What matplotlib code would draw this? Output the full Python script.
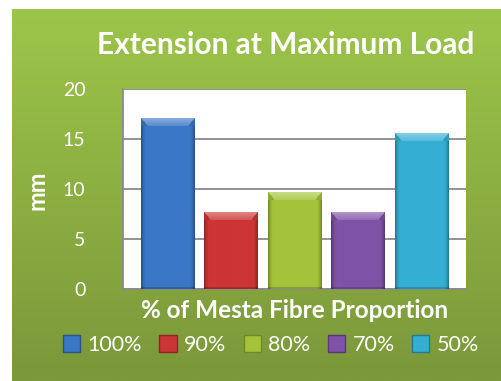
import numpy as np
import matplotlib
matplotlib.use("Agg")
import matplotlib.pyplot as plt
from matplotlib.patches import Rectangle
from matplotlib.colors import to_rgb

# Data
categories = ["100%", "90%", "80%", "70%", "50%"]
extension_mm = [17.1, 7.7, 9.7, 7.7, 15.6]
bar_colors = ["#3a78c6", "#cc3535", "#a4c33a", "#7e52a6", "#34afd3"]
yticks = [0, 5, 10, 15, 20]

FONT = "Lato"
W, H = 501, 381
fig = plt.figure(figsize=(W / 100, H / 100), dpi=100, facecolor="white")

# Green chart panel with a soft vertical gradient
bg = fig.add_axes([12 / W, 0, 1 - 12 / W, 1 - 9 / H])
bg.set_axis_off()
top_c = np.array(to_rgb("#9dc54a"))
bot_c = np.array(to_rgb("#7b983a"))
t = np.linspace(0, 1, 256)[:, None, None]
grad = top_c[None, None, :] * (1 - t) + bot_c[None, None, :] * t
bg.imshow(grad, aspect="auto", extent=[0, 1, 0, 1], origin="upper")
bg.set_xlim(0, 1)
bg.set_ylim(0, 1)

# Plot area
ax = fig.add_axes([123 / W, (H - 289) / H, (466 - 123) / W, 200 / H])
ax.set_facecolor("white")
ax.set_xlim(-0.7, 4.7)
ax.set_ylim(0, 20)
ax.set_yticks(yticks)
ax.set_yticklabels([str(v) for v in yticks], color="white", fontsize=14, family=FONT)
ax.tick_params(axis="y", length=0, pad=27)
ax.set_xticks([])
ax.yaxis.grid(True, color="#8a8a8a", linewidth=1.3, zorder=1)
ax.set_axisbelow(True)
for s in ["top", "right"]:
    ax.spines[s].set_visible(False)
for s in ["left", "bottom"]:
    ax.spines[s].set_color("#8a8a8a")
    ax.spines[s].set_linewidth(1.3)

bars = ax.bar(range(len(categories)), extension_mm, width=0.835,
              color=bar_colors, edgecolor="none", zorder=3)


def lighten(c, k):
    return c + (1 - c) * k


def shade_image(base, height_units, nx=80):
    """Build a bevelled shading image for one bar (rows from top)."""
    c = np.array(to_rgb(base))
    ny = max(int(round(height_units * 10)), 2)
    u = np.linspace(0, 1, nx)[None, :]
    d = np.arange(ny)[:, None] + 0.5  # pixels from top
    # horizontal shading: darker rim, lighter body
    rim = np.clip(np.minimum(u, 1 - u) / 0.08, 0, 1)
    f = 0.66 + 0.34 * rim ** 0.6
    img = np.broadcast_to(c[None, None, :] * f[..., None], (ny, nx, 3)).copy()
    # top bevel: lighter trapezoid with slanted darker sides
    bev = 8.0
    in_bev = np.broadcast_to(d < bev, (ny, nx))
    slant = (d / bev) * 0.12
    inside = (u > slant) & (u < 1 - slant) & in_bev
    side = in_bev & ~inside
    fade = np.broadcast_to(1 - d / bev, (ny, nx))
    for k in range(3):
        ch = img[..., k]
        ch[inside] = lighten(c[k], 0.15 + 0.25 * fade[inside])
        ch[side] = c[k] * 0.88
    # faint darker bottom
    img[-2:, :, :] *= 0.82
    return np.clip(img, 0, 1)


for b, col, val in zip(bars, bar_colors, extension_mm):
    x0 = b.get_x()
    w = b.get_width()
    img = shade_image(col, val)
    im = ax.imshow(img, extent=[x0, x0 + w, 0, val], origin="upper",
                   aspect="auto", zorder=4, interpolation="bilinear")
    im.set_clip_path(b)

ax.set_xlim(-0.7, 4.7)
ax.set_ylim(0, 20)

# Texts
fig.text(286 / W, 1 - 45 / H, "Extension at Maximum Load", color="white",
         fontsize=21.5, fontweight="bold", family=FONT, ha="center", va="center")
fig.text(37 / W, 1 - 190 / H, "mm", color="white", fontsize=17,
         fontweight="bold", family=FONT, ha="center", va="center", rotation=90)
fig.text(295 / W, 1 - 311 / H, "% of Mesta Fibre Proportion", color="white",
         fontsize=17.5, fontweight="bold", family=FONT, ha="center", va="center")

handles = [Rectangle((0, 0), 1, 1, facecolor=c,
                     edgecolor=np.array(to_rgb(c)) * 0.7, linewidth=1.0)
           for c in bar_colors]
leg = fig.legend(handles, categories, loc="center", ncol=5,
                 bbox_to_anchor=(271 / W, 1 - 345 / H), frameon=False,
                 handlelength=0.8, handleheight=0.8, handletextpad=0.35,
                 columnspacing=0.8, prop={"family": FONT, "size": 15.5})
for txt in leg.get_texts():
    txt.set_color("white")

fig.savefig("out.png", dpi=100, facecolor="white")
